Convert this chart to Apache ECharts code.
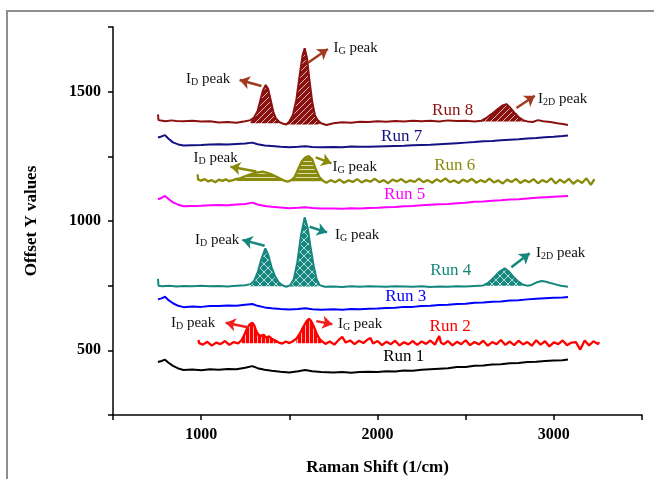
<!DOCTYPE html>
<html>
<head>
<meta charset="utf-8">
<script src="https://cdn.jsdelivr.net/npm/echarts@6/dist/echarts.min.js"></script>
<style>
  html, body { margin: 0; padding: 0; background: #fff; }
  #main { width: 654px; height: 479px; }
</style>
</head>
<body>
<div id="main"></div>
<script>
// ---- spectra (Raman shift, offset intensity) ----
var smoothX = [755,775,795,815,840,870,900, 950,1000,1050,1100,1150,1200,1250, 1290,1320,1360,1400,
  1450,1500,1550,1590,1630,1680, 1750,1800,1850,1900,1950,2000,
  2050,2100,2150,2200,2250,2300,2350,2400,2450,2500,2550,2600,2650,2700,2750,2800,2850,2900,2950,3000,3050, 3080];

var run1Y = [455,459,464,452,440,430,424, 426,423,427,425,428,427,433, 439,431,425,421,
  417,414,419,424,419,416, 414,416,413,416,417,416,
  419,418,422,421,425,427,429,431,436,436,440,441,445,446,450,451,455,456,459,461,462, 465];
var run3Y = [697,701,707,694,682,672,667, 669,668,671,671,673,672,676, 679,672,666,663,
  660,658,660,663,659,657, 659,657,660,659,661,662,
  664,665,668,668,671,672,675,676,679,680,684,685,688,689,693,694,697,699,701,703,704, 706];
var run5Y = [1084,1089,1097,1085,1072,1063,1057, 1058,1059,1061,1062,1061,1064,1066, 1071,1064,1058,1055,
  1052,1049,1051,1053,1050,1048, 1048,1047,1049,1048,1050,1051,
  1053,1054,1057,1058,1061,1063,1065,1066,1069,1071,1074,1075,1078,1080,1083,1084,1087,1090,1092,1094,1096, 1097];
var run7Y = [1323,1327,1332,1318,1304,1296,1292, 1293,1294,1296,1297,1296,1298,1300, 1303,1297,1292,1290,
  1287,1285,1287,1289,1286,1285, 1286,1285,1288,1287,1287,1288,
  1289,1290,1291,1293,1294,1295,1297,1299,1301,1303,1305,1308,1309,1312,1314,1316,1319,1321,1324,1326,1329, 1331];

var run2 = [[985,540],[988,528],[1010,522],[1035,533],[1060,518],[1085,530],[1110,524],[1135,536],[1160,521],[1185,532],
  [1210,527],[1230,540],[1245,560],[1260,585],[1275,600],[1290,607],[1300,598],[1312,575],[1325,560],[1340,556],
  [1355,560],[1370,549],[1385,554],[1400,545],[1420,538],[1440,530],[1460,526],[1480,534],[1500,528],[1520,535],
  [1540,545],[1560,565],[1580,592],[1600,615],[1612,622],[1625,612],[1640,590],[1655,565],[1670,545],[1685,535],
  [1705,525],[1730,534],[1755,522],[1780,540],[1800,552],[1820,530],[1845,538],[1870,524],[1895,537],[1920,528],
  [1945,542],[1960,548],[1975,526],[2000,536],[2025,520],[2050,533],[2075,524],[2100,537],[2125,519],[2150,531],
  [2175,523],[2200,536],[2225,521],[2250,534],[2275,525],[2300,538],[2325,522],[2350,555],[2360,530],[2375,523],
  [2400,536],[2425,519],[2450,533],[2475,524],[2500,539],[2525,520],[2550,532],[2575,523],[2600,537],[2625,518],
  [2650,532],[2675,524],[2700,540],[2725,521],[2750,534],[2775,520],[2800,537],[2825,523],[2850,532],[2875,518],
  [2900,539],[2925,522],[2950,535],[2975,515],[3000,531],[3025,524],[3050,538],[3075,520],[3100,530],[3125,532],
  [3150,503],[3175,538],[3200,519],[3225,535],[3250,524],[3256,532]];

var run4 = [[755,776],[758,750],[780,748],[820,750],[860,747],[900,749],[950,748],[1000,750],[1050,748],[1100,749],
  [1150,747],[1200,750],[1250,752],[1280,756],[1300,768],[1320,800],[1340,850],[1364,894],[1380,870],[1400,820],
  [1420,785],[1440,762],[1460,752],[1483,746],[1505,752],[1525,775],[1545,840],[1565,940],[1587,1014],[1605,970],
  [1620,900],[1640,820],[1655,775],[1672,752],[1700,746],[1750,747],[1800,745],[1850,748],[1900,746],[1950,748],
  [2000,747],[2050,746],[2100,748],[2150,747],[2200,746],[2250,748],[2300,745],[2350,747],[2400,746],[2450,748],
  [2500,747],[2550,749],[2600,751],[2630,762],[2660,782],[2690,803],[2722,817],[2745,805],[2770,785],[2795,768],
  [2820,756],[2845,750],[2870,752],[2900,762],[2930,768],[2950,766],[2980,760],[3010,755],[3040,750],[3080,746]];

var run6 = [[980,1180],[983,1160],[1000,1156],[1020,1162],[1040,1153],[1060,1158],[1080,1150],[1100,1160],[1120,1155],
  [1140,1161],[1160,1154],[1180,1158],[1200,1163],[1220,1165],[1245,1172],[1270,1178],[1295,1184],[1320,1188],
  [1350,1191],[1375,1186],[1400,1180],[1425,1172],[1450,1163],[1470,1156],[1490,1152],[1510,1158],[1530,1170],
  [1550,1200],[1570,1230],[1590,1245],[1610,1251],[1630,1238],[1650,1200],[1670,1170],[1690,1156],[1710,1148],
  [1735,1158],[1760,1150],[1785,1160],[1810,1148],[1835,1157],[1860,1151],[1885,1162],[1910,1149],[1935,1158],
  [1960,1152],[1985,1163],[2010,1150],[2035,1158],[2060,1146],[2085,1160],[2110,1153],[2135,1162],[2160,1149],
  [2185,1157],[2210,1151],[2235,1164],[2260,1150],[2285,1158],[2310,1148],[2335,1161],[2360,1152],[2385,1165],
  [2410,1150],[2435,1157],[2460,1147],[2485,1160],[2510,1152],[2535,1163],[2560,1148],[2585,1158],[2610,1150],
  [2635,1164],[2660,1149],[2685,1157],[2710,1145],[2735,1160],[2760,1151],[2785,1163],[2810,1147],[2835,1158],
  [2860,1150],[2885,1162],[2910,1146],[2935,1158],[2960,1150],[2985,1165],[3010,1145],[3035,1160],[3060,1148],
  [3085,1163],[3110,1144],[3135,1158],[3160,1147],[3185,1165],[3210,1140],[3230,1162]];

var run8 = [[755,1412],[758,1390],[780,1388],[800,1386],[830,1389],[860,1387],[900,1386],[950,1388],[1000,1385],
  [1050,1386],[1100,1381],[1150,1383],[1200,1380],[1250,1386],[1280,1390],[1300,1400],[1320,1425],[1335,1465],
  [1350,1505],[1366,1526],[1380,1510],[1395,1465],[1410,1420],[1425,1395],[1445,1382],[1465,1376],[1483,1373],
  [1500,1385],[1520,1410],[1540,1470],[1560,1570],[1575,1640],[1587,1668],[1600,1630],[1615,1540],[1630,1460],
  [1645,1410],[1660,1390],[1680,1378],[1710,1371],[1750,1378],[1800,1382],[1850,1380],[1900,1384],[1950,1383],
  [2000,1386],[2050,1384],[2100,1387],[2150,1385],[2200,1388],[2250,1386],[2300,1388],[2350,1385],[2400,1389],
  [2450,1387],[2500,1388],[2550,1385],[2590,1388],[2620,1400],[2650,1415],[2680,1432],[2710,1447],[2731,1452],
  [2750,1440],[2775,1420],[2800,1402],[2825,1390],[2850,1385],[2880,1383],[2910,1390],[2940,1386],[2980,1383],
  [3020,1378],[3050,1375],[3080,1371]];

var runNames = ['Run 1','Run 2','Run 3','Run 4','Run 5','Run 6','Run 7','Run 8'];
var runColors = ['#000000','#ff0000','#0000ff','#15877f','#ff00ff','#8a8a0a','#121282','#8b1010'];
var arrowColors = ['#000000','#f01e1e','#0000ff','#15877f','#ff00ff','#8a8a0a','#121282','#a33a20'];
var lineWidths = [2, 2.3, 2, 2, 2, 2.3, 2, 2];

// hatched peak areas: run index, from x, to x, baseline, hatch kind
var peakAreas = [
  [7, 1280, 1483, 1378, 'diag'], [7, 1483, 1690, 1373, 'diag'], [7, 2590, 2850, 1385, 'diag'],
  [5, 1200, 1490, 1155, 'horiz'], [5, 1510, 1695, 1152, 'horiz'],
  [3, 1270, 1483, 748, 'cross'], [3, 1483, 1690, 747, 'cross'], [3, 2600, 2850, 750, 'cross'],
  [1, 1225, 1440, 527, 'vert'], [1, 1540, 1690, 527, 'vert']
];

// run labels: run index, x, y
var runLabels = [[0,2149,475],[1,2412,591],[2,2160,707],[3,2415,808],[4,2154,1101],[5,2438,1216],[6,2137,1326],[7,2426,1429]];
// peak labels: subscript, x, y
var peakLabels = [['D',1040,1549],['G',1876,1669],['2D',3050,1472],
  ['D',1082,1244],['G',1871,1210],
  ['D',1091,927],['G',1885,946],['2D',3039,875],
  ['D',954,607],['G',1901,602]];
// arrows: run index, from x, from y, to x, to y
var arrows = [[7,1342,1522,1218,1545],[7,1604,1611,1718,1665],[7,2788,1437,2892,1484],
  [5,1313,1191,1166,1210],[5,1650,1246,1739,1223],
  [3,1360,904,1234,927],[3,1615,978,1714,956],[3,2759,821,2863,875],
  [1,1271,588,1139,607],[1,1653,613,1744,601]];

function pairs(xs, ys) { return xs.map(function (x, j) { return [x, ys[j]]; }); }
var runData = [pairs(smoothX, run1Y), run2, pairs(smoothX, run3Y), run4, pairs(smoothX, run5Y), run6, pairs(smoothX, run7Y), run8];

function hatch(color, kind) {
  var s = kind === 'cross' ? 8 : (kind === 'diag' ? 6 : 4);
  var c = document.createElement('canvas');
  c.width = s; c.height = s;
  var g = c.getContext('2d');
  g.fillStyle = color; g.fillRect(0, 0, s, s);
  g.strokeStyle = 'rgba(255,255,255,0.7)'; g.lineWidth = 1;
  g.beginPath();
  if (kind === 'diag' || kind === 'cross') {
    g.moveTo(0, s); g.lineTo(s, 0);
    g.moveTo(-1, 1); g.lineTo(1, -1);
    g.moveTo(s - 1, s + 1); g.lineTo(s + 1, s - 1);
  }
  if (kind === 'cross') { g.moveTo(0, 0); g.lineTo(s, s); }
  if (kind === 'horiz') { g.moveTo(0, 1.5); g.lineTo(s, 1.5); }
  if (kind === 'vert') { g.moveTo(1.5, 0); g.lineTo(1.5, s); }
  g.stroke();
  return { image: c, repeat: 'repeat' };
}

var serif = '"Liberation Serif", "Times New Roman", serif';
var series = [];

peakAreas.forEach(function (p) {
  series.push({
    type: 'line', silent: true, symbol: 'none', z: 1,
    data: runData[p[0]].filter(function (d) { return d[0] >= p[1] && d[0] <= p[2]; }),
    lineStyle: { width: 0 },
    areaStyle: { origin: p[3], color: hatch(runColors[p[0]], p[4]), opacity: 1 }
  });
});

runData.forEach(function (d, i) {
  var arr = arrows.filter(function (a) { return a[0] === i; });
  series.push({
    name: runNames[i], type: 'line', symbol: 'none', z: 2,
    data: d,
    lineStyle: { color: runColors[i], width: lineWidths[i] },
    markLine: arr.length ? {
      silent: true, symbol: ['none', 'arrow'], symbolSize: 10, animation: false,
      label: { show: false },
      lineStyle: { color: arrowColors[i], width: 2.5, type: 'solid' },
      data: arr.map(function (a) { return [{ coord: [a[1], a[2]] }, { coord: [a[3], a[4]] }]; })
    } : undefined
  });
});

var chart = echarts.init(document.getElementById('main'));
chart.setOption({
  animation: false,
  backgroundColor: '#fff',
  grid: { left: 113, right: 12, top: 27, bottom: 64, outerBoundsMode: 'none', containLabel: false },
  xAxis: {
    type: 'value', min: 500, max: 3500, interval: 500,
    name: 'Raman Shift (1/cm)', nameLocation: 'middle', nameGap: 44,
    nameTextStyle: { fontFamily: serif, fontWeight: 'bold', fontSize: 17, color: '#000' },
    axisLine: { lineStyle: { color: '#000', width: 1.5 } },
    axisTick: { lineStyle: { color: '#000', width: 1.5 }, length: 5 },
    axisLabel: {
      margin: 12, fontFamily: serif, fontWeight: 'bold', fontSize: 16, color: '#000',
      formatter: function (v) { return v % 1000 === 0 ? v : ''; }
    },
    splitLine: { show: false }
  },
  yAxis: {
    type: 'value', min: 250, max: 1750, interval: 250,
    name: 'Offset Y values', nameLocation: 'middle', nameGap: 73,
    nameTextStyle: { fontFamily: serif, fontWeight: 'bold', fontSize: 17, color: '#000' },
    axisLine: { show: true, lineStyle: { color: '#000', width: 1.5 } },
    axisTick: { show: true, lineStyle: { color: '#000', width: 1.5 }, length: 5 },
    axisLabel: {
      margin: 12, fontFamily: serif, fontWeight: 'bold', fontSize: 16, color: '#000',
      formatter: function (v) { return (v % 500 === 0) ? v : ''; }
    },
    splitLine: { show: false }
  },
  series: series
});

var graphics = [{
  type: 'rect', silent: true, z: -10,
  shape: { x: 7, y: 11, width: 720, height: 540 },
  style: { fill: 'none', stroke: '#8f8f8f', lineWidth: 2 }
}];
runLabels.forEach(function (l) {
  var p = chart.convertToPixel({ gridIndex: 0 }, [l[1], l[2]]);
  graphics.push({
    type: 'text', x: p[0], y: p[1], z: 100,
    style: { text: runNames[l[0]], fill: runColors[l[0]], font: '17px ' + serif, align: 'center', verticalAlign: 'middle' }
  });
});
peakLabels.forEach(function (l) {
  var p = chart.convertToPixel({ gridIndex: 0 }, [l[1], l[2]]);
  graphics.push({
    type: 'text', x: p[0], y: p[1], z: 100,
    style: {
      text: '{m|I}{s|' + l[0] + '}{m| peak}', align: 'center', verticalAlign: 'middle',
      rich: {
        m: { fontSize: 15, fontFamily: serif, fill: '#111' },
        s: { fontSize: 10, fontFamily: serif, fill: '#111', padding: [7, 0, 0, 0] }
      }
    }
  });
});
chart.setOption({ graphic: graphics });
</script>
</body>
</html>
